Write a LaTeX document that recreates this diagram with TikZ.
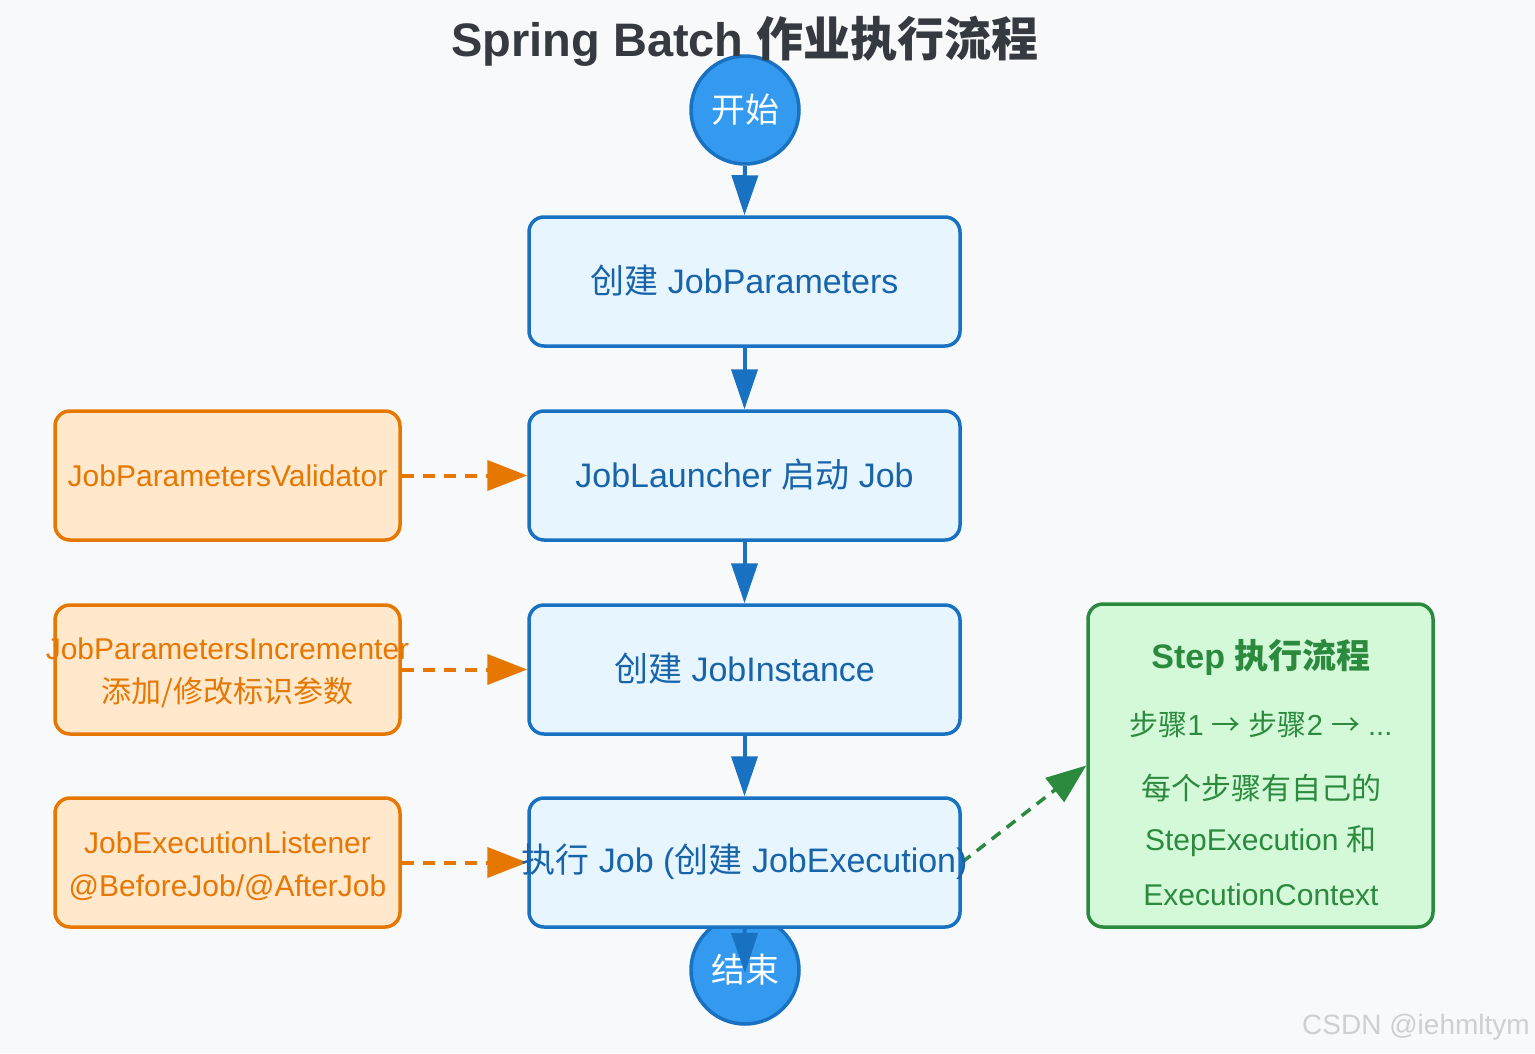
\documentclass[tikz,border=0pt]{standalone}
\usepackage{fontspec}
\setmainfont{Liberation Sans}
\newfontfamily\cjk{Noto Sans CJK SC}
\usetikzlibrary{arrows.meta}
\definecolor{bgc}{HTML}{F8F9FA}
\definecolor{titlec}{HTML}{343A40}
\definecolor{blueline}{HTML}{1971C2}
\definecolor{bluefill}{HTML}{E7F5FF}
\definecolor{bluetext}{HTML}{1864AB}
\definecolor{circfill}{HTML}{339AF0}
\definecolor{orline}{HTML}{E67700}
\definecolor{orfill}{HTML}{FFE8CC}
\definecolor{grline}{HTML}{2B8A3E}
\definecolor{grfill}{HTML}{D3F9D8}
\definecolor{wmark}{HTML}{CDCFD2}
\tikzset{
  mainbox/.style={draw=blueline, fill=bluefill, line width=3.5pt, rounded corners=15pt,
    minimum width=431pt, minimum height=129pt, inner sep=0pt},
  sidebox/.style={draw=orline, fill=orfill, line width=3.5pt, rounded corners=15pt,
    minimum width=345pt, minimum height=129pt, inner sep=0pt},
  stepbox/.style={draw=grline, fill=grfill, line width=3.5pt, rounded corners=15pt,
    minimum width=345pt, minimum height=323pt, inner sep=0pt},
  circ/.style={circle, draw=blueline, fill=circfill, line width=3.5pt, minimum size=108pt,
    inner sep=0pt, text=white, font=\fontsize{34}{40}\selectfont\cjk},
  maintext/.style={inner sep=0pt, text=bluetext, font=\fontsize{34}{40}\selectfont},
  sidetext/.style={inner sep=0pt, text=orline, align=center, font=\fontsize{30}{43}\selectfont},
  greentext/.style={inner sep=0pt, text=grline, font=\fontsize{30}{36}\selectfont},
  flow/.style={draw=blueline, line width=4pt, -{Triangle[length=40pt,width=26pt]}},
  sidearrow/.style={draw=orline, line width=4pt, dash pattern=on 12pt off 9pt,
    -{Triangle[length=40pt,width=30pt]}},
  steparrow/.style={draw=grline, line width=3.5pt, dash pattern=on 11pt off 8pt,
    -{Triangle[length=40pt,width=30pt]}},
}
\begin{document}
\begin{tikzpicture}[x=1pt,y=-1pt]
\useasboundingbox (0,0) rectangle (1535,1053);
\fill[bgc] (0,0) rectangle (1535,1053);

% circles (drawn first so title and box overlap them)
\node[circ] (start) at (745,110) {开始};
\node[circ] (end) at (745,970) {结束};

% title
\node[inner sep=0pt, text=titlec, font=\fontsize{47}{52}\selectfont\bfseries] (title) at (745,41)
  {Spring Batch {\cjk 作业执行流程}};

% main boxes
\node[mainbox] (b1) at (744.5,281.5) {};
\node[mainbox] (b2) at (744.5,475.5) {};
\node[mainbox] (b3) at (744.5,669.5) {};
\node[mainbox] (b4) at (744.5,862.5) {};
\node[maintext] (t1) at (744.5,281) {{\cjk 创建} JobParameters};
\node[maintext] (t2) at (744.5,475) {JobLauncher {\cjk 启动} Job};
\node[maintext] (t3) at (744.5,669) {{\cjk 创建} JobInstance};

% side boxes
\node[sidebox] (s1) at (227.5,475.5) {};
\node[sidebox] (s2) at (227.5,669.5) {};
\node[sidebox] (s3) at (227.5,862.5) {};
\node[sidetext] (st1) at (227.5,476) {JobParametersValidator};
\node[sidetext] (st2) at (227.5,673) {JobParametersIncrementer\\{\cjk 添加/修改标识参数}};
\node[sidetext] (st3) at (227.5,866) {JobExecutionListener\\@BeforeJob/@AfterJob};

% step box
\node[stepbox] (g) at (1260.5,765.5) {};
\node[greentext, font=\fontsize{34}{38}\selectfont\bfseries] (g1) at (1261,657) {Step {\cjk 执行流程}};
\node[greentext, font=\fontsize{29}{36}\selectfont] (g2) at (1261,724) {{\cjk 步骤}1 {\cjk →} {\cjk 步骤}2 {\cjk →} ...};
\node[greentext] (g3) at (1261,788) {\cjk 每个步骤有自己的};
\node[greentext] (g4) at (1261,841) {StepExecution {\cjk 和}};
\node[greentext] (g5) at (1261,895) {ExecutionContext};

% connectors
\coordinate (endtip) at (745,973);
\draw[flow] (start.south) -- (b1.north);
\draw[flow] (b1.south) -- (b2.north);
\draw[flow] (b2.south) -- (b3.north);
\draw[flow] (b3.south) -- (b4.north);
\draw[sidearrow] (s1.east) -- (b2.west);
\draw[sidearrow] (s2.east) -- (b3.west);
\draw[sidearrow] (s3.east) -- (b4.west);
\draw[steparrow] (b4.east) -- (g.west);

% text of last box over arrows
\node[maintext] (t4) at (744.5,862) {{\cjk 执行} Job ({\cjk 创建} JobExecution)};
\draw[flow] (b4.south) -- (endtip);

% watermark
\node[inner sep=0pt, text=wmark, font=\fontsize{28}{32}\selectfont] (wm) at (1416,1027) {CSDN @iehmltym};
\end{tikzpicture}
\end{document}
